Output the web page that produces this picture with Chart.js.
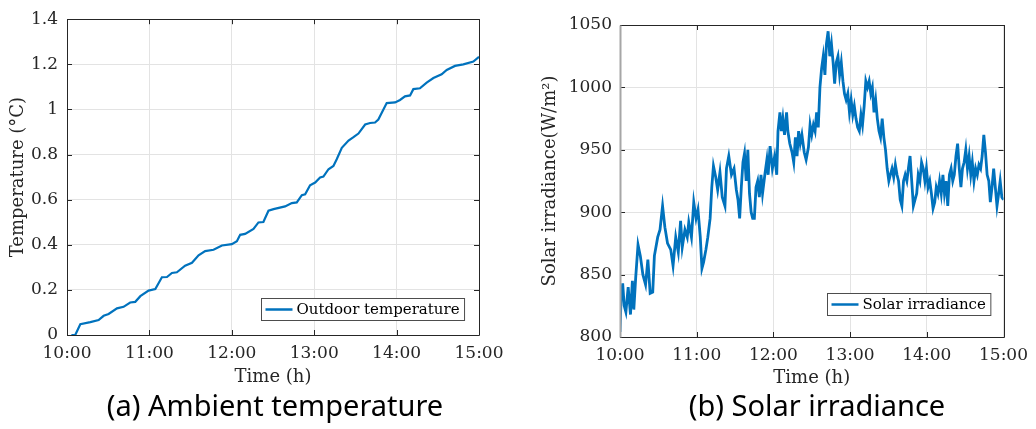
<!DOCTYPE html>
<html>
<head>
<meta charset="utf-8">
<script src="https://cdn.jsdelivr.net/npm/chart.js@4"></script>
<style>
  body { margin: 0; background: #fff; width: 1036px; height: 429px; position: relative; overflow: hidden; }
  canvas { position: absolute; top: 0; }
  #c1 { left: 0; }
  #c2 { left: 520px; }
  .caption { position: absolute; top: 390px; font-family: "Noto Sans", Lato, sans-serif; font-size: 29px; line-height: 1; color: #000; white-space: nowrap; transform: translateX(-50%); }
</style>
</head>
<body>
<canvas id="c1" width="520" height="395"></canvas>
<canvas id="c2" width="516" height="395"></canvas>
<div class="caption" style="left:275px">(a) Ambient temperature</div>
<div class="caption" style="left:817px">(b) Solar irradiance</div>
<script>
// time axis (minutes after 10:00)
const timeLabels = ['10:00', '11:00', '12:00', '13:00', '14:00', '15:00'];

// (a) outdoor temperature
const tempTickLabels = ['0', '0.2', '0.4', '0.6', '0.8', '1', '1.2', '1.4'];
const tempMinutes = [3.2, 6, 9.7, 17, 23, 26.7, 30.3, 36.4, 41.2, 46, 49.7, 53.4, 59.4, 64.3, 69.1, 72.8, 76.4, 80, 86, 91,
  95.8, 100.6, 106.7, 112.8, 120, 123.7, 126.1, 129.7, 135.8, 139.4, 143, 146.7, 150.4, 158.8, 163.7, 167.3, 171, 173.4, 177, 180.7,
  184.3, 186.7, 190.4, 194, 196.4, 200.1, 205, 208.6, 212.2, 217.1, 220.7, 224.3, 226.7, 232.8, 238.9, 242.5, 246.1, 249.8, 252.2, 257,
  261.9, 266.8, 272.8, 276.5, 282.5, 288.6, 295.9, 300];
const tempValues = [0, 0, 0.048, 0.057, 0.066, 0.085, 0.093, 0.118, 0.125, 0.144, 0.147, 0.172, 0.197, 0.204, 0.256, 0.257, 0.275, 0.278, 0.307, 0.32,
  0.353, 0.372, 0.378, 0.397, 0.403, 0.416, 0.444, 0.448, 0.47, 0.499, 0.501, 0.551, 0.558, 0.57, 0.585, 0.588, 0.62, 0.624, 0.664, 0.676,
  0.698, 0.702, 0.735, 0.749, 0.779, 0.83, 0.862, 0.877, 0.893, 0.933, 0.94, 0.942, 0.955, 1.028, 1.031, 1.042, 1.058, 1.062, 1.09, 1.094,
  1.119, 1.139, 1.156, 1.175, 1.193, 1.2, 1.212, 1.233];

// (b) solar irradiance
const irrTickLabels = ['800', '850', '900', '950', '1000', '1050'];
const irrMinutes = [0, 0.8, 2.1, 3.3, 4.6, 6.4, 8.2, 9.7, 10.8, 12.3, 14.1, 15.9, 17.9, 20, 21.8, 23.6, 25.6, 26.9, 29.5, 31.3,
  33.3, 35.1, 37.2, 39.7, 41.5, 43.6, 45.6, 47.4, 48.7, 50.8, 52.6, 53.8, 55.9, 57.7, 59.5, 61, 62.8, 64.1, 65.4, 67.2,
  68.7, 70.5, 71.8, 73.1, 74.9, 76.4, 78.2, 80, 82.1, 83.3, 85.1, 87.2, 89.2, 91, 92.3, 93.6, 94.9, 96.2, 97.4, 98.7,
  100, 101.3, 102.6, 103.8, 105.1, 106.4, 107.7, 109, 110.3, 111.5, 113.3, 114.9, 115.9, 117.4, 119.2, 121, 122.6, 123.6, 125.1, 126.2,
  127.4, 128.7, 130.3, 131.3, 132.8, 134.6, 135.9, 137.2, 138.5, 139.7, 141, 142.3, 144.1, 145.6, 147.4, 148.7, 150, 151.3, 152.6, 153.8,
  155.1, 156.4, 157.7, 159, 160.3, 161.5, 162.8, 164.1, 165.4, 166.7, 167.9, 169.2, 170.5, 171.8, 173.1, 174.4, 175.6, 176.9, 178.2, 179.5,
  180.8, 182.1, 183.3, 184.6, 185.9, 187.2, 188.5, 189.7, 191, 192.3, 193.6, 194.9, 196.2, 197.4, 198.7, 200, 201.3, 202.6, 203.8, 205.1,
  206.4, 207.7, 209, 210.3, 211.5, 212.8, 214.1, 215.4, 216.7, 217.9, 219.2, 220.5, 221.8, 223.1, 224.4, 225.6, 226.9, 228.2, 229.5, 230.8,
  232.1, 233.3, 234.6, 235.9, 237.2, 238.5, 239.7, 241, 242.3, 243.6, 244.9, 246.2, 247.4, 248.7, 250, 251.3, 252.6, 253.8, 255.1, 256.4,
  257.7, 259, 260.3, 261.5, 262.8, 264.1, 265.4, 266.7, 267.9, 269.2, 270.5, 271.8, 273.1, 274.4, 275.6, 276.9, 278.2, 279.5, 280.8, 282.1,
  283.3, 284.6, 285.9, 287.2, 288.5, 289.7, 291, 292.3, 293.6, 294.9, 296.2, 297.4, 298.7, 300];
const irrValues = [804, 830, 843, 825, 820, 840, 818, 845, 822, 848, 874, 865, 850, 842, 862, 835, 836, 865, 880, 886,
  905, 888, 875, 870, 857, 880, 868, 893, 872, 886, 880, 892, 880, 908, 895, 902, 880, 855, 860, 870,
  880, 895, 920, 937, 928, 918, 932, 912, 905, 935, 945, 930, 935, 918, 910, 895, 920, 940, 947, 925,
  950, 915, 900, 895, 895, 920, 925, 912, 930, 915, 930, 942, 930, 953, 935, 945, 930, 965, 980, 965,
  975, 962, 980, 965, 955, 948, 940, 960, 945, 965, 955, 962, 948, 942, 952, 970, 962, 970, 965, 980,
  968, 1000, 1015, 1025, 1010, 1035, 1045, 1025, 1035, 1020, 1003, 1020, 1025, 1010, 1020, 1005, 995, 990, 995, 980,
  990, 978, 985, 975, 968, 965, 978, 970, 985, 1005, 1000, 1005, 995, 1000, 980, 990, 975, 965, 960, 975,
  960, 950, 935, 925, 930, 935, 928, 938, 930, 925, 910, 905, 925, 930, 925, 935, 945, 925, 905, 910,
  915, 930, 925, 940, 935, 925, 935, 920, 925, 915, 903, 908, 920, 915, 925, 915, 930, 915, 925, 905,
  930, 935, 925, 930, 945, 955, 935, 920, 935, 940, 950, 935, 945, 930, 940, 925, 935, 930, 938, 935,
  945, 962, 948, 930, 925, 908, 920, 935, 920, 905, 915, 925, 912, 910];

const lineColor = '#0072BD';
const axisColor = '#262626';
const gridColor = '#e3e3e3';
const tickFont = { family: '"DejaVu Serif", serif', size: 17 };
const titleFont = { family: '"DejaVu Serif", serif', size: 18 };

// box, inward ticks and legend like the original figure
const framePlugin = {
    id: 'frame',
    afterDatasetsDraw(chart, args, opts) {
        const { ctx, chartArea: a, scales: { x, y } } = chart;
        ctx.save();
        ctx.strokeStyle = axisColor;
        ctx.lineWidth = 1;
        ctx.beginPath();
        x.ticks.forEach(t => {
            const px = Math.round(x.getPixelForValue(t.value)) + 0.5;
            ctx.moveTo(px, a.bottom); ctx.lineTo(px, a.bottom - 5);
            ctx.moveTo(px, a.top); ctx.lineTo(px, a.top + 5);
        });
        y.ticks.forEach(t => {
            const py = Math.round(y.getPixelForValue(t.value)) + 0.5;
            ctx.moveTo(a.left, py); ctx.lineTo(a.left + 5, py);
            ctx.moveTo(a.right, py); ctx.lineTo(a.right - 5, py);
        });
        ctx.stroke();
        const l = Math.round(a.left) + 0.5, r = Math.round(a.right) + 0.5;
        const tp = Math.round(a.top) + 0.5, b = Math.round(a.bottom) + 0.5;
        ctx.beginPath();
        ctx.moveTo(l, tp); ctx.lineTo(r, tp); ctx.lineTo(r, b); ctx.lineTo(l, b);
        ctx.stroke();
        ctx.strokeStyle = opts.leftColor || axisColor;
        ctx.lineWidth = opts.leftWidth || 1;
        ctx.beginPath();
        ctx.moveTo(l, tp); ctx.lineTo(l, b);
        ctx.stroke();

        // legend
        const ds = chart.data.datasets[0];
        ctx.font = '15px "DejaVu Serif", serif';
        const tw = ctx.measureText(ds.label).width;
        const w = 4 + 27 + 4 + tw + 5, h = 22;
        const bx = Math.round(a.right - opts.legendRight - w) + 0.5;
        const by = Math.round(a.bottom - opts.legendBottom - h) + 0.5;
        ctx.fillStyle = '#fff';
        ctx.fillRect(bx, by, w, h);
        ctx.strokeStyle = '#4d4d4d';
        ctx.lineWidth = 1;
        ctx.strokeRect(bx, by, w, h);
        ctx.strokeStyle = ds.borderColor;
        ctx.lineWidth = 2.5;
        ctx.beginPath();
        ctx.moveTo(bx + 4, by + h / 2); ctx.lineTo(bx + 31, by + h / 2);
        ctx.stroke();
        ctx.fillStyle = '#000';
        ctx.textBaseline = 'middle';
        ctx.fillText(ds.label, bx + 35, by + h / 2 + 1);
        ctx.restore();
    }
};

function makeChart(canvas, cfg) {
    const points = cfg.minutes.map((m, i) => ({ x: m, y: cfg.values[i] }));
    return new Chart(canvas, {
        type: 'line',
        data: {
            datasets: [{
                label: cfg.label,
                data: points,
                borderColor: lineColor,
                borderWidth: cfg.lineWidth,
                pointRadius: 0,
                tension: 0,
                fill: false
            }]
        },
        options: {
            responsive: false,
            animation: false,
            events: [],
            layout: { padding: { top: cfg.padTop, right: cfg.padRight, left: 0, bottom: 0 } },
            plugins: {
                legend: { display: false },
                tooltip: { enabled: false },
                frame: cfg.frame
            },
            scales: {
                x: {
                    type: 'linear',
                    min: 0,
                    max: 300,
                    afterFit: s => { s.height = cfg.xHeight; },
                    border: { display: false },
                    grid: { color: gridColor, drawTicks: false },
                    ticks: {
                        stepSize: 60,
                        padding: 8,
                        maxRotation: 0,
                        autoSkip: false,
                        color: axisColor,
                        font: tickFont,
                        callback: (v, i) => timeLabels[i]
                    },
                    title: { display: true, text: 'Time (h)', color: axisColor, font: titleFont, padding: cfg.xTitlePad }
                },
                y: {
                    min: cfg.yMin,
                    max: cfg.yMax,
                    afterFit: s => { s.width = cfg.yWidth; },
                    border: { display: false },
                    grid: { color: gridColor, drawTicks: false },
                    ticks: {
                        stepSize: cfg.yStep,
                        padding: cfg.yTickPad,
                        color: axisColor,
                        font: tickFont,
                        callback: (v, i) => cfg.tickLabels[i]
                    },
                    title: { display: true, text: cfg.yTitle, color: axisColor, font: titleFont, padding: cfg.yTitlePad }
                }
            }
        },
        plugins: [framePlugin]
    });
}

makeChart(document.getElementById('c1'), {
    label: 'Outdoor temperature',
    minutes: tempMinutes,
    values: tempValues,
    tickLabels: tempTickLabels,
    lineWidth: 2.2,
    yMin: 0, yMax: 1.4, yStep: 0.2,
    yTitle: 'Temperature (°C)',
    padTop: 17, padRight: 41,
    xHeight: 60, yWidth: 67,
    xTitlePad: 7, yTitlePad: 8, yTickPad: 9,
    frame: { legendRight: 15, legendBottom: 15 }
});

makeChart(document.getElementById('c2'), {
    label: 'Solar irradiance',
    minutes: irrMinutes,
    values: irrValues,
    tickLabels: irrTickLabels,
    lineWidth: 2.8,
    yMin: 800, yMax: 1050, yStep: 50,
    yTitle: 'Solar irradiance(W/m²)',
    padTop: 25, padRight: 26,
    xHeight: 58, yWidth: 100,
    xTitlePad: 6, yTitlePad: 20, yTickPad: 8,
    frame: { legendRight: 13, legendBottom: 22, leftColor: '#a6a6a6', leftWidth: 2 }
});
</script>
</body>
</html>
